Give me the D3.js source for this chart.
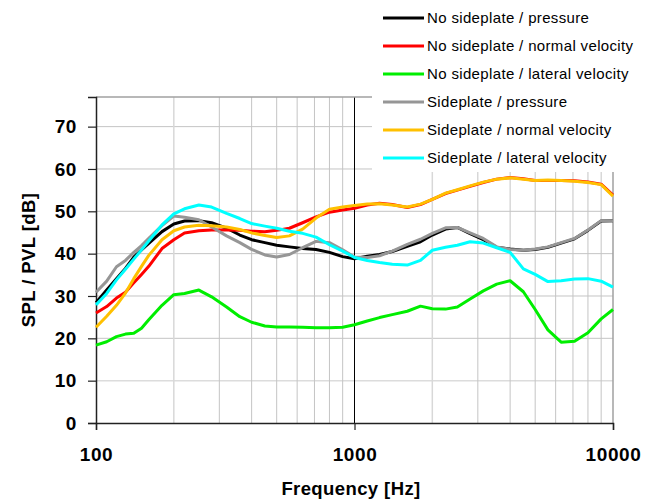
<!DOCTYPE html>
<html>
<head>
<meta charset="utf-8">
<script src="https://cdn.jsdelivr.net/npm/d3@7"></script>
<style>
  body { margin: 0; background: #fff; }
  text { font-family: "Liberation Sans", Arial, sans-serif; }
  .tick-label { font-size: 19px; font-weight: bold; letter-spacing: 0.6px; }
  .axis-title { font-size: 18.5px; font-weight: bold; letter-spacing: 0.4px; }
  .legend text { font-size: 15px; letter-spacing: 0.35px; }
</style>
</head>
<body>
<svg id="chart" width="656" height="502"></svg>
<script>
const freqs = [100, 110, 120, 130, 140, 150, 160, 180, 200, 220, 250, 280, 320, 360, 400, 450, 500,
  560, 630, 710, 800, 900, 1000, 1120, 1250, 1400, 1600, 1800, 2000, 2250, 2500, 2800, 3150,
  3550, 4000, 4500, 5000, 5600, 6300, 7100, 8000, 9000, 10000];

const noPressure = [28.4, 31.4, 34.1, 36.5, 39.2, 40.9, 42.4, 45.2, 47, 47.7, 47.8, 47.3, 46, 44.4, 43.3, 42.6, 42,
  41.6, 41.2, 41, 40.3, 39.3, 38.8, 39.4, 39.8, 40.5, 41.7, 42.8, 44.4, 45.8, 46.2, 44.7, 43.3,
  41.5, 41.1, 40.8, 41, 41.5, 42.5, 43.5, 45.5, 47.7, 47.8];
const noNormal = [26, 27.5, 29.5, 30.9, 33.1, 35.1, 37, 41.2, 43.3, 44.9, 45.4, 45.6, 45.6, 45.5, 45.3, 45.2, 45.5,
  46, 47.3, 48.7, 49.8, 50.3, 50.7, 51.5, 51.9, 51.6, 50.9, 51.6, 52.8, 54.2, 55, 55.9, 56.8,
  57.6, 58, 57.7, 57.3, 57.3, 57.3, 57.2, 56.9, 56.4, 53.8];
const noLateral = [18.4, 19.2, 20.4, 21, 21.2, 22.4, 24.4, 27.8, 30.3, 30.6, 31.4, 29.8, 27.4, 25.1, 23.8, 22.9, 22.7,
  22.7, 22.6, 22.5, 22.5, 22.6, 23.2, 24.1, 24.9, 25.6, 26.4, 27.6, 27, 26.9, 27.4, 29.3, 31.2,
  32.8, 33.6, 31, 26.8, 22, 19.1, 19.3, 21.3, 24.6, 26.8];
const sidePressure = [30.9, 33.5, 36.9, 38.4, 40.3, 41.9, 43.6, 46.6, 48.9, 48.6, 48, 46.3, 44.2, 42.6, 41, 39.7, 39.2,
  39.8, 41.4, 42.9, 42.6, 40.9, 39.2, 39.1, 39.5, 40.6, 42.2, 43.4, 44.8, 46.1, 46.2, 44.9, 43.6,
  41.6, 41, 40.8, 41.1, 41.6, 42.6, 43.6, 45.6, 47.8, 47.8];
const sideNormal = [22.6, 25.2, 27.8, 30.7, 34.1, 37, 39.6, 43.3, 45.4, 46.3, 46.7, 46.6, 46.3, 45.7, 44.9, 44.3, 43.8,
  44.2, 45.8, 48.4, 50.5, 51, 51.4, 51.7, 51.8, 51.5, 51, 51.7, 52.8, 54.3, 55.1, 56, 56.9,
  57.6, 57.9, 57.6, 57.3, 57.4, 57.3, 57.1, 56.8, 56.3, 53.6];
const sideLateral = [27.9, 30.6, 33.8, 36.3, 38.7, 40.9, 43, 46.8, 49.4, 50.6, 51.5, 51, 49.5, 48.3, 47.1, 46.5, 46,
  45.3, 44.8, 43.9, 42.1, 40.6, 39.1, 38.4, 37.9, 37.5, 37.3, 38.4, 40.8, 41.5, 42, 42.8, 42.5,
  41.4, 40.3, 36.4, 35.1, 33.4, 33.6, 34, 34.1, 33.5, 32.1];

const seriesNames = ["No sideplate / pressure", "No sideplate / normal velocity", "No sideplate / lateral velocity",
  "Sideplate / pressure", "Sideplate / normal velocity", "Sideplate / lateral velocity"];
const seriesValues = [noPressure, noNormal, noLateral, sidePressure, sideNormal, sideLateral];
const seriesColors = ["#000000", "#ff0000", "#00ee00", "#969696", "#ffc000", "#00ffff"];

const yTicks = [0, 10, 20, 30, 40, 50, 60, 70];
const xTicks = [100, 1000, 10000];

const svg = d3.select("#chart");
const pLeft = 96, pRight = 613, pTop = 97, pBottom = 423;

const x = d3.scaleLog().domain([100, 10000]).range([pLeft, pRight]);
const y = d3.scaleLinear().domain([0, 77]).range([pBottom, pTop]);

// grid
svg.append("g")
  .selectAll("line")
  .data(yTicks.filter(d => d > 0))
  .enter()
  .append("line")
  .attr("x1", pLeft).attr("x2", pRight)
  .attr("y1", d => y(d)).attr("y2", d => y(d))
  .attr("stroke", d => d === 10 ? "#dcdcdc" : "#c4c4c4")
  .attr("stroke-width", d => d === 10 ? 1.5 : 1);

svg.append("g")
  .selectAll("line")
  .data(x.ticks().filter(d => d > 100 && d < 10000))
  .enter()
  .append("line")
  .attr("x1", d => x(d)).attr("x2", d => x(d))
  .attr("y1", pTop).attr("y2", pBottom)
  .attr("stroke", d => d === 1000 ? "#000" : (d === 200 || d === 2000 ? "#d8d8d8" : "#c4c4c4"))
  .attr("stroke-width", d => d === 200 || d === 2000 ? 1.5 : 1);

// frame
svg.append("line").attr("x1", pLeft).attr("x2", pRight).attr("y1", pTop).attr("y2", pTop)
  .attr("stroke", "#a0a0a0").attr("stroke-width", 1.5);
svg.append("line").attr("x1", pRight).attr("x2", pRight).attr("y1", pTop).attr("y2", pBottom)
  .attr("stroke", "#a0a0a0").attr("stroke-width", 1.5);

// axes
const yAxis = svg.append("g")
  .attr("transform", `translate(${pLeft},0)`)
  .call(d3.axisLeft(y).tickValues(yTicks).tickSize(8).tickPadding(11));
const xAxis = svg.append("g")
  .attr("transform", `translate(0,${pBottom})`)
  .call(d3.axisBottom(x).tickValues(xTicks).tickFormat(d3.format("d")).tickSize(7).tickPadding(17.5));
[yAxis, xAxis].forEach(a => {
  a.select(".domain").attr("stroke", "#222").attr("stroke-width", 1.5);
  a.selectAll(".tick line").attr("stroke", "#222").attr("stroke-width", 1.2);
  a.selectAll(".tick text").attr("class", "tick-label").attr("fill", "#000");
});

// series
const line = d3.line()
  .x((d, i) => x(freqs[i]))
  .y(d => y(d));

svg.append("g")
  .selectAll("path")
  .data(seriesValues)
  .enter()
  .append("path")
  .attr("d", d => line(d))
  .attr("fill", "none")
  .attr("stroke", (d, i) => seriesColors[i])
  .attr("stroke-width", 3)
  .attr("stroke-linejoin", "round");

// legend
const legend = svg.append("g").attr("class", "legend");
legend.append("rect")
  .attr("x", 372).attr("y", 0).attr("width", 284).attr("height", 172)
  .attr("fill", "#fff");
const items = legend.selectAll(".item")
  .data(seriesNames)
  .enter()
  .append("g")
  .attr("transform", (d, i) => `translate(383, ${18 + i * 28})`);
items.append("line")
  .attr("x1", 0).attr("x2", 41)
  .attr("stroke", (d, i) => seriesColors[i])
  .attr("stroke-width", 3);
items.append("text")
  .attr("x", 44).attr("dy", "0.35em")
  .text(d => d);

// titles
svg.append("text")
  .attr("class", "axis-title")
  .attr("x", 351).attr("y", 495)
  .attr("text-anchor", "middle")
  .text("Frequency [Hz]");

svg.append("text")
  .attr("class", "axis-title")
  .attr("transform", "translate(35, 260) rotate(-90)")
  .attr("text-anchor", "middle")
  .text("SPL / PVL [dB]");
</script>
</body>
</html>
